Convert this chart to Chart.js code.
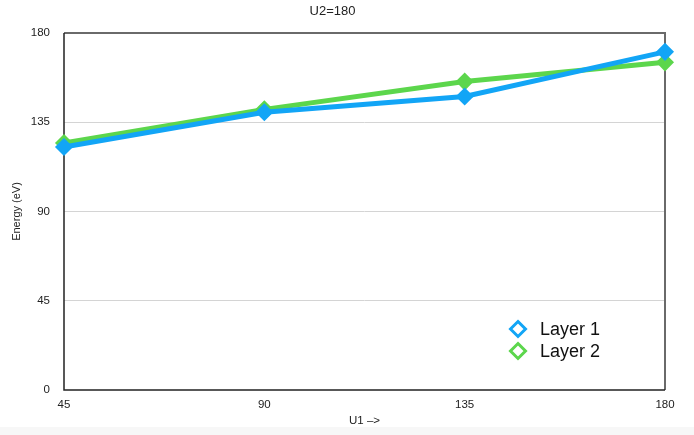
<!DOCTYPE html>
<html>
<head>
<meta charset="utf-8">
<script src="https://cdn.jsdelivr.net/npm/chart.js@4/dist/chart.umd.min.js"></script>
<style>
  html, body { margin: 0; padding: 0; background: #ffffff; }
  #wrap { position: relative; width: 694px; height: 427px; background: #ffffff; }
  #band { width: 694px; height: 8px; background: #f7f7f7; }
</style>
</head>
<body>
<div id="wrap"><canvas id="c" width="694" height="427"></canvas></div>
<div id="band"></div>
<script>
const xValues = [45, 90, 135, 180];
const layer1 = [122.5, 140, 148, 170.5];
const layer2 = [124.5, 141.5, 155.5, 165.2];
const seriesNames = ['Layer 1', 'Layer 2'];
const seriesColors = ['#12a5f6', '#5cd64c'];
const chartTitle = 'U2=180';
const xTitle = 'U1 \u2013>';
const yTitle = 'Energy (eV)';

const FONT = '"Liberation Sans", Arial, Helvetica, sans-serif';

const frame = {
  id: 'frame',
  beforeDatasetsDraw(chart) {
    const {ctx, chartArea: a} = chart;
    ctx.save();
    ctx.lineWidth = 2;
    ctx.strokeStyle = '#6a6a6a';
    ctx.beginPath();
    ctx.moveTo(a.left, a.top); ctx.lineTo(a.right, a.top); ctx.lineTo(a.right, a.bottom);
    ctx.stroke();
    ctx.strokeStyle = '#222';
    ctx.lineWidth = 1.5;
    ctx.beginPath();
    ctx.moveTo(a.left, a.top); ctx.lineTo(a.left, a.bottom); ctx.lineTo(a.right, a.bottom);
    ctx.stroke();
    ctx.restore();
  },
  afterDraw(chart) {
    const {ctx} = chart;
    ctx.save();
    chart.data.datasets.forEach((ds, i) => {
      const cx = 518, cy = 329 + i * 22, r = 7.5;
      ctx.strokeStyle = ds.borderColor;
      ctx.lineWidth = 3;
      ctx.beginPath();
      ctx.moveTo(cx, cy - r); ctx.lineTo(cx + r, cy); ctx.lineTo(cx, cy + r); ctx.lineTo(cx - r, cy); ctx.closePath();
      ctx.stroke();
      ctx.fillStyle = '#111';
      ctx.font = '18px ' + FONT;
      ctx.textBaseline = 'middle';
      ctx.textAlign = 'left';
      ctx.fillText(ds.label, 540, cy + 1);
    });
    ctx.restore();
  }
};

new Chart(document.getElementById('c'), {
  type: 'line',
  data: {
    datasets: [
      { label: seriesNames[0], data: xValues.map((x, i) => ({x, y: layer1[i]})) },
      { label: seriesNames[1], data: xValues.map((x, i) => ({x, y: layer2[i]})) }
    ].map((d, i) => Object.assign(d, {
      borderColor: seriesColors[i], backgroundColor: seriesColors[i],
      borderWidth: 5, pointStyle: 'rectRot', pointRadius: 5.5, pointHoverRadius: 5.5,
      tension: 0, fill: false, clip: false
    }))
  },
  options: {
    responsive: false,
    animation: false,
    layout: { padding: { left: 0, right: 29, top: 0, bottom: 0 } },
    plugins: {
      legend: { display: false },
      tooltip: { enabled: false },
      title: {
        display: true, text: chartTitle, color: '#222',
        font: { family: FONT, size: 13, weight: 'normal' },
        padding: { top: 4, bottom: 13.4 }
      }
    },
    scales: {
      x: {
        type: 'linear', min: 45, max: 180,
        afterFit(s) { s.height = 37; },
        ticks: { stepSize: 45, color: '#222', padding: 8, font: { family: FONT, size: 11.5 } },
        grid: { display: false, drawTicks: false },
        border: { display: false },
        title: { display: true, text: xTitle, color: '#222', padding: { top: 0, bottom: -1 }, font: { family: FONT, size: 11.5 } }
      },
      y: {
        min: 0, max: 180,
        afterFit(s) { s.width = 64; },
        ticks: { stepSize: 45, color: '#222', padding: 14, font: { family: FONT, size: 11.5 } },
        grid: { color: (c) => (c.tick && (c.tick.value === 0 || c.tick.value === 180)) ? 'rgba(0,0,0,0)' : '#d4d4d4', drawTicks: false, lineWidth: 1 },
        border: { display: false },
        title: { display: true, text: yTitle, color: '#222', padding: { top: 10, bottom: 0 }, font: { family: FONT, size: 11 } }
      }
    }
  },
  plugins: [frame]
});
</script>
</body>
</html>
